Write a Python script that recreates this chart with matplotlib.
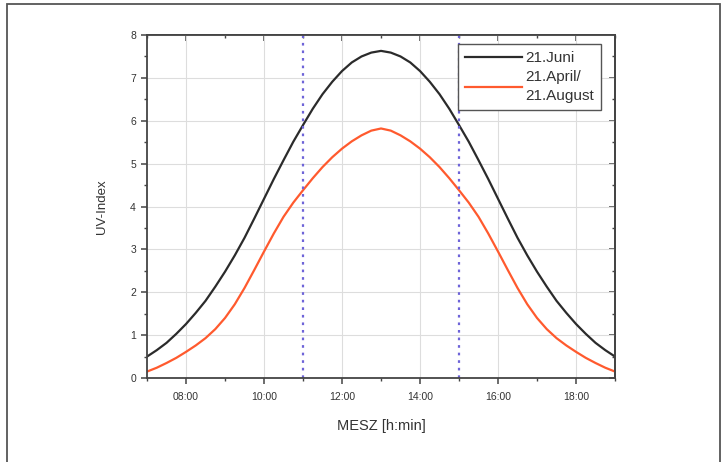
import matplotlib
matplotlib.use("Agg")
import matplotlib.pyplot as plt
from matplotlib.ticker import MultipleLocator, FuncFormatter, NullFormatter
from matplotlib.patches import Rectangle

plt.rcParams["font.family"] = ["Liberation Sans", "DejaVu Sans"]

# time of day (MESZ, hours), quarter-hour steps, and UV index
hours = [7 + 0.25 * i for i in range(49)]
uv_juni = [0.50, 0.65, 0.82, 1.03, 1.26, 1.52, 1.80, 2.13, 2.48, 2.86, 3.27, 3.72,
           4.18, 4.64, 5.08, 5.51, 5.90, 6.28, 6.62, 6.91, 7.16, 7.36, 7.50, 7.59,
           7.63,
           7.59, 7.50, 7.36, 7.16, 6.91, 6.62, 6.28, 5.90, 5.51, 5.08, 4.64, 4.18,
           3.72, 3.27, 2.86, 2.48, 2.13, 1.80, 1.52, 1.26, 1.03, 0.82, 0.65, 0.50]
uv_april = [0.15, 0.24, 0.35, 0.47, 0.61, 0.76, 0.93, 1.14, 1.40, 1.72, 2.10, 2.52,
            2.95, 3.37, 3.76, 4.09, 4.38, 4.66, 4.92, 5.15, 5.35, 5.52, 5.66, 5.77,
            5.82,
            5.77, 5.66, 5.52, 5.35, 5.15, 4.92, 4.66, 4.38, 4.09, 3.76, 3.37, 2.95,
            2.52, 2.10, 1.72, 1.40, 1.14, 0.93, 0.76, 0.61, 0.47, 0.35, 0.24, 0.15]
marks = [11.0, 15.0]

label_juni = "21.Juni"
label_april = "21.April/\n21.August"

fig = plt.figure(figsize=(7.25, 4.62), dpi=100)
ax = fig.add_axes([0.2028, 0.1818, 0.6455, 0.7424])

fig.patches.append(Rectangle((0.0097, -0.02), 0.9835, 1.0113, transform=fig.transFigure,
                             fill=False, edgecolor="#555555", linewidth=1.3))

ax.plot(hours, uv_juni, color="#2b2b2b", lw=1.6, label=label_juni)
ax.plot(hours, uv_april, color="#ff5a2e", lw=1.6, label=label_april)
for m in marks:
    ax.axvline(m, color="#6e64d8", lw=1.6, ls=(0, (1.2, 2.2)))

ax.set_xlim(7, 19)
ax.set_ylim(0, 8)
ax.set_xticks([8, 10, 12, 14, 16, 18])
ax.xaxis.set_minor_locator(MultipleLocator(1))
ax.yaxis.set_major_locator(MultipleLocator(1))
ax.yaxis.set_minor_locator(MultipleLocator(0.5))
ax.xaxis.set_major_formatter(FuncFormatter(lambda v, p: "%02d:00" % int(round(v))))

ax.grid(True, which="major", color="#dddddd", lw=0.8)
ax.set_axisbelow(True)

for s in ax.spines.values():
    s.set_color("#444444")
    s.set_linewidth(1.3)

ax.tick_params(which="both", direction="out", color="#444444", labelsize=7.5,
               labelcolor="#333333")
ax.tick_params(axis="x", which="major", length=4, width=1.1, pad=6)
ax.tick_params(axis="y", which="major", length=4, width=1.1, pad=4)
ax.tick_params(which="minor", length=2.5, width=1.0)

# mirrored ticks on top and right, pointing inwards
top = ax.secondary_xaxis("top")
top.set_xticks([8, 10, 12, 14, 16, 18])
top.xaxis.set_minor_locator(MultipleLocator(1))
top.xaxis.set_major_formatter(NullFormatter())
top.tick_params(which="both", direction="in", color="#444444")
top.tick_params(which="major", length=4, width=1.1)
top.tick_params(which="minor", length=2.5, width=1.0)
right = ax.secondary_yaxis("right")
right.yaxis.set_major_locator(MultipleLocator(1))
right.yaxis.set_minor_locator(MultipleLocator(0.5))
right.yaxis.set_major_formatter(NullFormatter())
right.tick_params(which="both", direction="in", color="#444444")
right.tick_params(which="major", length=4, width=1.1)
right.tick_params(which="minor", length=2.5, width=1.0)
for sec in (top, right):
    for s in sec.spines.values():
        s.set_color("#444444")
        s.set_linewidth(1.3)

ax.set_xlabel("MESZ [h:min]", fontsize=10.5, color="#333333", labelpad=12)
ax.set_ylabel("UV-Index", fontsize=9.5, color="#333333", labelpad=16)

leg = ax.legend(loc="upper right", bbox_to_anchor=(0.987, 0.997), fontsize=11,
                fancybox=False, framealpha=1, edgecolor="#555555",
                handlelength=3.7, handletextpad=0.2, borderpad=0.5, labelspacing=0.3)
leg.get_frame().set_linewidth(1.0)
for t in leg.get_texts():
    t.set_color("#333333")
    t.set_linespacing(1.45)

fig.savefig("out.png", dpi=100)
